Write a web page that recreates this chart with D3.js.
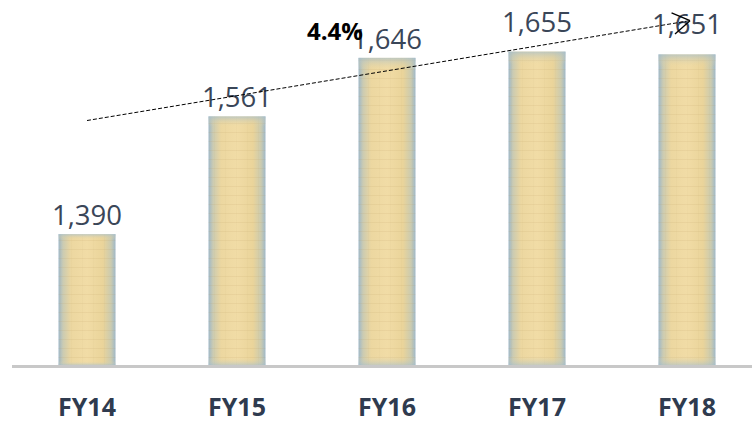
<!DOCTYPE html>
<html>
<head>
<meta charset="utf-8">
<script src="https://cdn.jsdelivr.net/npm/d3@7.9.0/dist/d3.min.js"></script>
<style>
  body { margin: 0; background: #fff; }
  svg { display: block; font-family: 'Open Sans', sans-serif; }
</style>
</head>
<body>
<svg width="752" height="422"></svg>
<script>
const years = ['FY14', 'FY15', 'FY16', 'FY17', 'FY18'];
const revenue = [1390, 1561, 1646, 1655, 1651];
// dashed growth arrow: from first to last year, in chart units
const trendYears = ['FY14', 'FY18'];
const trendValues = [1555, 1700];
const cagrLabel = '4.4%';
// these labels sit a bit higher above their bars in the original
const raisedLabels = ['FY17', 'FY18'];

const svg = d3.select('svg');
const width = 752;

let x = d3.scaleBand().domain(years).range([12, 762]).paddingInner(0.62).paddingOuter(0.31);
let y = d3.scaleLinear().domain([1200, 1730]).range([365, 0]);

// bar fill: beige paper with blueish edges
let defs = svg.append('defs');
let grad = defs.append('linearGradient').attr('id', 'paper').attr('x1', 0).attr('x2', 1).attr('y1', 0).attr('y2', 0);
[[0, '#9fb8c8'], [0.08, '#cbcbb2'], [0.22, '#ecd7a0'], [0.5, '#f1dca6'], [0.78, '#ead49a'], [0.92, '#cbcbb0'], [1, '#9fb8c8']]
  .forEach(([o, c]) => grad.append('stop').attr('offset', o).attr('stop-color', c));
let vgrad = defs.append('linearGradient').attr('id', 'paperV').attr('x1', 0).attr('x2', 0).attr('y1', 0).attr('y2', 1);
[[0, '#a9c0cc', 0.7], [0.04, '#e8d7a4', 0], [0.97, '#e8d7a4', 0], [1, '#a9c0cc', 0.6]]
  .forEach(([o, c, a]) => vgrad.append('stop').attr('offset', o).attr('stop-color', c).attr('stop-opacity', a));
let pat = defs.append('pattern').attr('id', 'lines').attr('width', 11).attr('height', 9).attr('patternUnits', 'userSpaceOnUse');
pat.append('rect').attr('y', 6).attr('width', 11).attr('height', 1).attr('fill', '#b89a5a').attr('opacity', 0.12);
pat.append('rect').attr('x', 5).attr('width', 1).attr('height', 9).attr('fill', '#b89a5a').attr('opacity', 0.05);

let bars = svg.selectAll('g.bar').data(years).join('g').attr('class', 'bar');
['url(#paper)', 'url(#lines)', 'url(#paperV)'].forEach((f) => {
  bars.append('rect')
    .attr('x', (d) => x(d))
    .attr('y', (d, i) => y(revenue[i]))
    .attr('width', x.bandwidth())
    .attr('height', (d, i) => y(1200) - y(revenue[i]))
    .attr('fill', f);
});

// baseline
svg.append('line')
  .attr('x1', 12).attr('x2', width)
  .attr('y1', y(1200) + 1.5).attr('y2', y(1200) + 1.5)
  .attr('stroke', '#c8c8c8').attr('stroke-width', 3);

// category labels
svg.selectAll('text.cat').data(years).join('text')
  .attr('class', 'cat')
  .attr('x', (d) => x(d) + x.bandwidth() / 2)
  .attr('y', 416)
  .attr('text-anchor', 'middle')
  .attr('font-size', 25)
  .attr('font-weight', 'bold')
  .attr('fill', '#2f3b4f')
  .text((d) => d);

// value labels
svg.selectAll('text.val').data(years).join('text')
  .attr('class', 'val')
  .attr('x', (d) => x(d) + x.bandwidth() / 2)
  .attr('y', (d, i) => y(revenue[i]) - (raisedLabels.includes(d) ? 20 : 9))
  .attr('text-anchor', 'middle')
  .attr('font-size', 27.5)
  .attr('fill', '#3a4658')
  .text((d, i) => d3.format(',')(revenue[i]));

// trend arrow
let x0 = x(trendYears[0]) + x.bandwidth() / 2;
let x1 = x(trendYears[1]) + x.bandwidth() / 2 + 3;
let y0 = y(trendValues[0]), y1 = y(trendValues[1]);
svg.append('line')
  .attr('x1', x0).attr('y1', y0).attr('x2', x1).attr('y2', y1)
  .attr('stroke', '#000').attr('stroke-width', 1).attr('stroke-dasharray', '4,2');
let ang = Math.atan2(y1 - y0, x1 - x0);
[-0.56, 0.56].forEach((da) => {
  svg.append('line')
    .attr('x1', x1).attr('y1', y1)
    .attr('x2', x1 - 20 * Math.cos(ang + da)).attr('y2', y1 - 20 * Math.sin(ang + da))
    .attr('stroke', '#000').attr('stroke-width', 1.3);
});

svg.append('text')
  .attr('x', 335).attr('y', 40)
  .attr('text-anchor', 'middle')
  .attr('font-size', 24)
  .attr('font-weight', 'bold')
  .attr('fill', '#000')
  .text(cagrLabel);
</script>
</body>
</html>
